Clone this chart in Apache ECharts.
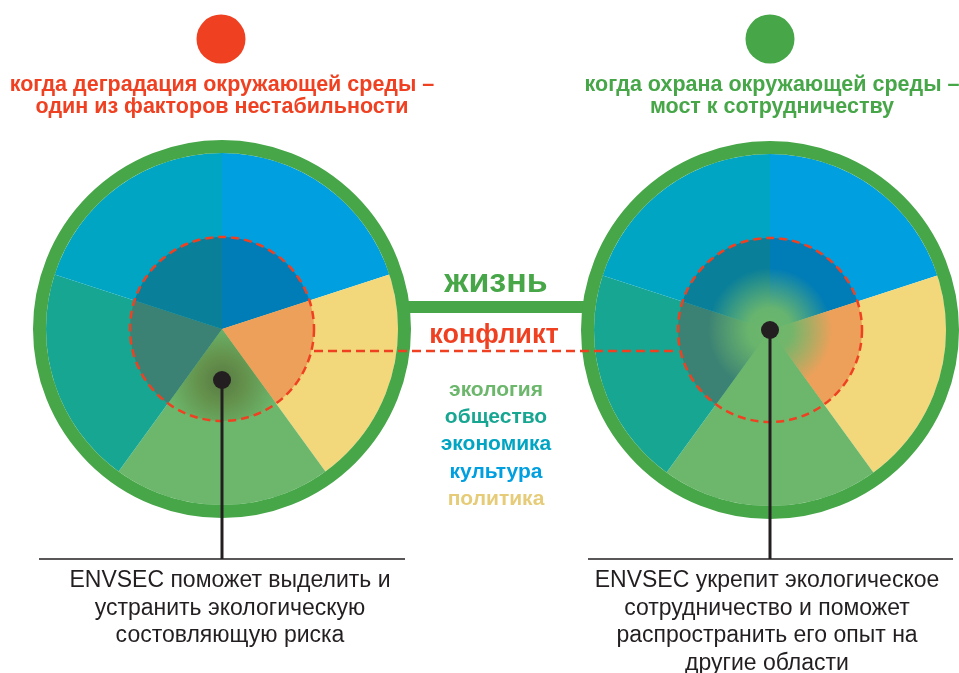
<!DOCTYPE html>
<html><head><meta charset="utf-8">
<script src="https://cdn.jsdelivr.net/npm/echarts@6/dist/echarts.min.js"></script>
<style>html,body{margin:0;padding:0;background:#fff}#c{width:959px;height:673px}</style>
</head><body><div id="c"></div>
<script>
// ---- data ----
const categories = ['культура', 'политика', 'экология', 'общество', 'экономика'];
const shares = [1, 1, 1, 1, 1];
const legendLabels = ['экология', 'общество', 'экономика', 'культура', 'политика'];
const titleLeft = ['когда деградация окружающей среды –', 'один из факторов нестабильности'];
const titleRight = ['когда охрана окружающей среды –', 'мост к сотрудничеству'];
const noteLeft = ['ENVSEC поможет выделить и', 'устранить экологическую', 'состовляющую риска'];
const noteRight = ['ENVSEC укрепит экологическое', 'сотрудничество и поможет', 'распространить его опыт на', 'другие области'];
const bridgeTop = 'жизнь';
const bridgeBottom = 'конфликт';

// ---- styles ----
const RED = '#ef4122', GREEN = '#46a648', INK = '#231f20';
const outerColors = ['#009fe0', '#f2d87a', '#6cb76c', '#16a692', '#00a5c3'];
const innerLeft = ['#007cb6', '#eca05a',
  {type: 'radial', x: 0.5, y: 0.56, r: 0.62, colorStops: [
    {offset: 0, color: '#587a42'}, {offset: 0.4, color: '#64914c'}, {offset: 1, color: '#6cb76c'}]},
  '#3c8274', '#0a7f99'];
const innerRight = ['#007cb6', '#eca05a', '#6cb76c', '#3c8274', '#0a7f99'];
const legendColors = ['#6cb76c', '#16a692', '#00a5c3', '#009fe0', '#e6cc78'];
const L = [222, 329], R = [770, 330];
const FONT = '"Liberation Sans", Arial, sans-serif';

function pie(center, radius, colors, z) {
  return {
    type: 'pie', center: center, radius: radius, startAngle: 90, clockwise: true,
    silent: true, animation: false, z: z,
    label: {show: false}, labelLine: {show: false}, emphasis: {disabled: true},
    itemStyle: {borderWidth: 0},
    data: categories.map((c, i) => ({name: c, value: shares[i], itemStyle: {color: colors[i], borderWidth: 0}}))
  };
}

function txt(text, x, y, font, color, z) {
  return {type: 'text', z: z || 20, silent: true,
    style: {text: text, x: x, y: y, font: font, fill: color, textAlign: 'center', textVerticalAlign: 'middle', verticalAlign: 'middle'}};
}

const g = [];
// bridge bar
g.push({type: 'rect', z: 9, shape: {x: 398, y: 301, width: 194, height: 12}, style: {fill: GREEN}});
// glow on right
g.push({type: 'circle', z: 5, silent: true, shape: {cx: R[0], cy: R[1], r: 62},
  style: {fill: {type: 'radial', x: 0.5, y: 0.5, r: 0.5, colorStops: [
    {offset: 0, color: 'rgba(108,183,108,1)'}, {offset: 0.35, color: 'rgba(108,183,108,0.95)'},
    {offset: 0.7, color: 'rgba(108,183,108,0.45)'}, {offset: 1, color: 'rgba(108,183,108,0)'}]}}});
[L, R].forEach(c => {
  g.push({type: 'circle', z: 10, silent: true, shape: {cx: c[0], cy: c[1], r: 182.5}, style: {fill: 'none', stroke: GREEN, lineWidth: 13}});
  g.push({type: 'circle', z: 12, silent: true, shape: {cx: c[0], cy: c[1], r: 92}, style: {fill: 'none', stroke: RED, lineWidth: 2.5, lineDash: [8, 5]}});
});
g.push({type: 'line', z: 12, silent: true, shape: {x1: 314, y1: 351, x2: 678, y2: 351}, style: {stroke: RED, lineWidth: 2.5, lineDash: [9, 5]}});
// pointers
g.push({type: 'line', z: 13, silent: true, shape: {x1: L[0], y1: 380, x2: L[0], y2: 559}, style: {stroke: INK, lineWidth: 3}});
g.push({type: 'line', z: 13, silent: true, shape: {x1: R[0], y1: R[1], x2: R[0], y2: 559}, style: {stroke: INK, lineWidth: 3}});
g.push({type: 'circle', z: 14, silent: true, shape: {cx: L[0], cy: 380, r: 9}, style: {fill: INK}});
g.push({type: 'circle', z: 14, silent: true, shape: {cx: R[0], cy: R[1], r: 9}, style: {fill: INK}});
g.push({type: 'line', z: 13, silent: true, shape: {x1: 39, y1: 559, x2: 405, y2: 559}, style: {stroke: INK, lineWidth: 1.4}});
g.push({type: 'line', z: 13, silent: true, shape: {x1: 588, y1: 559, x2: 953, y2: 559}, style: {stroke: INK, lineWidth: 1.4}});
// top circles
g.push({type: 'circle', z: 13, silent: true, shape: {cx: 221, cy: 39, r: 24.5}, style: {fill: RED}});
g.push({type: 'circle', z: 13, silent: true, shape: {cx: 770, cy: 39, r: 24.5}, style: {fill: GREEN}});
// titles
const TF = 'bold 21.5px ' + FONT;
titleLeft.forEach((t, i) => g.push(txt(t, 222, 85 + i * 22, TF, RED)));
titleRight.forEach((t, i) => g.push(txt(t, 772, 85 + i * 22, TF, GREEN)));
// bridge texts
g.push(txt(bridgeTop, 496, 283, 'bold 34px ' + FONT, GREEN));
g.push(txt(bridgeBottom, 494, 335.5, 'bold 27px ' + FONT, RED));
legendLabels.forEach((t, i) => g.push(txt(t, 496, 390 + i * 27.3, 'bold 21px ' + FONT, legendColors[i])));
// notes
const NF = '23px ' + FONT;
noteLeft.forEach((t, i) => g.push(txt(t, 230, 580.5 + i * 27.7, NF, INK)));
noteRight.forEach((t, i) => g.push(txt(t, 767, 580.5 + i * 27.7, NF, INK)));

const chart = echarts.init(document.getElementById('c'), null, {renderer: 'canvas'});
chart.setOption({
  animation: false,
  backgroundColor: '#fff',
  series: [
    pie(L, 176, outerColors, 2), pie(L, [0, 92], innerLeft, 3),
    pie(R, 176, outerColors, 2), pie(R, [0, 92], innerRight, 3)
  ],
  graphic: {elements: g}
});
</script></body></html>
